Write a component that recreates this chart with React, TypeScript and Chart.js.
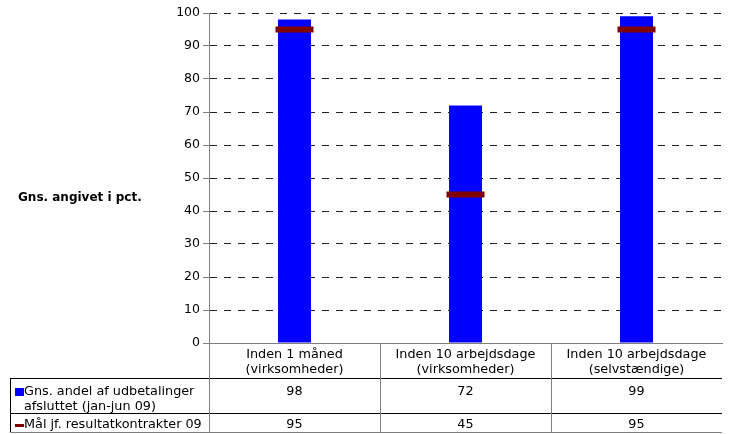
import React, { useEffect, useRef } from "react";
import { Chart, registerables } from "chart.js";

Chart.register(...registerables);

const categories: string[][] = [
  ["Inden 1 måned", "(virksomheder)"],
  ["Inden 10 arbejdsdage", "(virksomheder)"],
  ["Inden 10 arbejdsdage", "(selvstændige)"],
];
const actualLabel: string[] = ["Gns. andel af udbetalinger", "afsluttet (jan-jun 09)"];
const actualValues: number[] = [98, 72, 99];
const targetLabel: string = "Mål jf. resultatkontrakter 09";
const targetValues: number[] = [95, 45, 95];
const yTicks: number[] = [0, 10, 20, 30, 40, 50, 60, 70, 80, 90, 100];
const yTitle = "Gns. angivet i pct.";

const FONT = "'DejaVu Sans', Verdana, sans-serif";
const BLUE = "#0000FF";
const DARKRED = "#800000";
const AXIS = "#808080";

const tablePlugin = {
  id: "dataTable",
  afterDraw(chart: any) {
    const ctx = chart.ctx as CanvasRenderingContext2D;
    const area = chart.chartArea;
    const xs = chart.scales.x;
    const b = area.bottom;
    const left = 10;
    const right = area.right;
    const r1 = b + 35;
    const r2 = b + 70;
    const r3 = b + 89;
    ctx.save();
    // y axis title
    ctx.font = `bold 12px ${FONT}`;
    ctx.fillStyle = "#000";
    ctx.textAlign = "left";
    ctx.textBaseline = "middle";
    ctx.fillText(yTitle, 18, 198);

    // horizontal lines
    ctx.lineWidth = 1;
    ctx.strokeStyle = "#000";
    ctx.beginPath();
    ctx.moveTo(left, r1 + 0.5);
    ctx.lineTo(right, r1 + 0.5);
    ctx.moveTo(left, r2 + 0.5);
    ctx.lineTo(right, r2 + 0.5);
    ctx.moveTo(left + 0.5, r1);
    ctx.lineTo(left + 0.5, r3);
    ctx.stroke();
    ctx.strokeStyle = AXIS;
    ctx.beginPath();
    ctx.moveTo(left, r3 + 0.5);
    ctx.lineTo(right, r3 + 0.5);
    // vertical dividers
    const n = categories.length;
    const step = (area.right - area.left) / n;
    for (let i = 0; i < n; i++) {
      const x = Math.round(xs.getPixelForValue(i) - step / 2) + 0.5;
      ctx.moveTo(x, b);
      ctx.lineTo(x, r3 + 1);
    }
    ctx.stroke();

    // category labels & values
    ctx.font = `12.8px ${FONT}`;
    ctx.fillStyle = "#000";
    ctx.textAlign = "center";
    for (let i = 0; i < n; i++) {
      const cx = xs.getPixelForValue(i);
      ctx.fillText(categories[i][0], cx, b + 12);
      ctx.fillText(categories[i][1], cx, b + 27);
      ctx.fillText(String(actualValues[i]), cx, b + 49);
      ctx.fillText(String(targetValues[i]), cx, b + 82);
    }

    // legend cells
    ctx.save();
    ctx.beginPath();
    ctx.rect(left + 1, r1, area.left - left - 2, r3 - r1);
    ctx.clip();
    ctx.fillStyle = BLUE;
    ctx.fillRect(15, b + 45, 9, 8);
    ctx.fillStyle = DARKRED;
    ctx.fillRect(15, b + 81, 9, 3);
    ctx.fillStyle = "#000";
    ctx.textAlign = "left";
    ctx.fillText(actualLabel[0], 24, b + 49);
    ctx.fillText(actualLabel[1], 24, b + 64);
    ctx.fillText(targetLabel, 24, b + 82);
    ctx.restore();
    ctx.restore();
  },
};

export default function App() {
  const ref = useRef<HTMLCanvasElement | null>(null);
  useEffect(() => {
    if (!ref.current) return;
    const chart = new Chart(ref.current, {
      type: "bar",
      data: {
        labels: categories.map((c) => c.join(" ")),
        datasets: [
          {
            type: "line",
            label: targetLabel,
            data: targetValues,
            showLine: false,
            pointStyle: "line",
            pointRadius: 19,
            pointBorderWidth: 6,
            pointBorderColor: DARKRED,
            pointBackgroundColor: DARKRED,
            borderColor: DARKRED,
            clip: false,
            order: 0,
          } as any,
          {
            type: "bar",
            label: actualLabel.join(" "),
            data: actualValues,
            backgroundColor: BLUE,
            borderWidth: 0,
            categoryPercentage: 1,
            barPercentage: 33 / 171,
            order: 1,
          },
        ],
      },
      options: {
        responsive: false,
        animation: false,
        events: [],
        layout: { autoPadding: false, padding: { left: 0, right: 9, top: 13, bottom: 0 } },
        plugins: {
          legend: { display: false },
          tooltip: { enabled: false },
          title: { display: false },
        },
        scales: {
          x: {
            grid: { display: false },
            ticks: { display: false },
            border: { display: true, color: AXIS, width: 1 },
            afterFit: (s: any) => {
              s.height = 91;
            },
          },
          y: {
            min: 0,
            max: 100,
            afterBuildTicks: (s: any) => {
              s.ticks = yTicks.map((v) => ({ value: v }));
            },
            ticks: {
              color: "#000",
              font: { family: FONT, size: 12.5 },
              padding: 3,
            },
            grid: {
              color: "#222",
              lineWidth: 1,
              tickLength: 6,
              tickColor: AXIS,
              tickBorderDash: [],
            },
            border: { display: true, color: AXIS, width: 1, dash: [7, 7] },
            afterFit: (s: any) => {
              s.width = 209;
            },
          },
        },
      },
      plugins: [tablePlugin],
    });
    return () => chart.destroy();
  }, []);
  return (
    <div style={{ position: "fixed", left: 0, top: 0, width: 731, height: 434, background: "#fff" }}>
      <canvas ref={ref} width={731} height={434} style={{ display: "block" }} />
    </div>
  );
}
